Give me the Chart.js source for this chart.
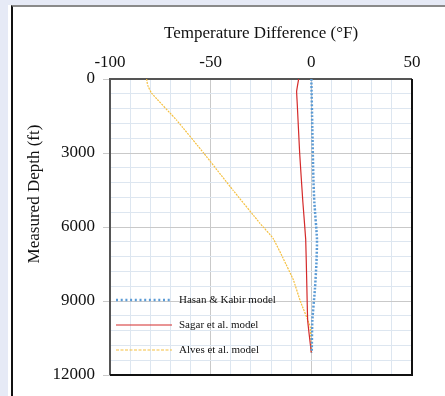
<!DOCTYPE html>
<html><head><meta charset="utf-8">
<title>Temperature Difference</title>
<script src="https://cdn.jsdelivr.net/npm/chart.js@4.4.0/dist/chart.umd.min.js"></script>
<style>
  html, body { margin: 0; padding: 0; }
  body { width: 445px; height: 396px; background: #e6eaf6; position: relative; overflow: hidden; }
  .panel { position: absolute; left: 8px; top: 5px; right: 0; bottom: 0; background: #fff; }
  .frame { position: absolute; left: 11px; top: 5px; right: -10px; bottom: -10px;
           border-left: 2px solid #111; border-top: 2px solid #8a8a8a; }
  .wrap { position: absolute; left: 0; top: 0; width: 445px; height: 396px; }
</style>
</head>
<body>
<div class="panel"></div>
<div class="frame"></div>
<div class="wrap"><canvas id="c"></canvas></div>
<script>
// x ticks: temperature difference (°F), y ticks: measured depth (ft)
const xMin = -100, xMax = 50, xStep = 10, xMajor = 50;
const yMin = 0, yMax = 12000, yStep = 600, yMajor = 3000;

// Hasan & Kabir model
const hkDepth = [0, 2000, 4000, 5000, 6500, 7500, 8500, 9800, 11100];
const hkDiff  = [0, 0.5, 1.0, 1.5, 2.8, 2.5, 1.8, 0.5, 0.2];

// Sagar et al. model
const sgDepth = [0, 500, 1000, 3000, 5000, 6500, 8150, 9800, 11100];
const sgDiff  = [-6.3, -7.3, -7.0, -5.8, -4.2, -2.8, -2.3, -1.8, 0];

// Alves et al. model
const alDepth = [0, 250, 570, 1660, 3000, 4500, 5850, 6460, 7270, 8150, 9000, 10040, 11100];
const alDiff  = [-81.8, -81.3, -79.4, -67, -53.5, -39, -25.5, -19, -14, -8.9, -5.5, -0.6, 0];

const seriesNames = ['Hasan & Kabir model', 'Sagar et al. model', 'Alves et al. model'];

const toPts = (xs, ys) => xs.map((x, i) => ({ x: x, y: ys[i] }));

const serif = "'Liberation Serif', 'Times New Roman', serif";

// 枠線と凡例
const framePlugin = {
  id: 'frame',
  beforeDatasetsDraw(chart) {
    const a = chart.chartArea, ctx = chart.ctx;
    ctx.save();
    ctx.lineWidth = 2;
    ctx.strokeStyle = '#555';
    ctx.beginPath();
    ctx.moveTo(a.left, a.bottom); ctx.lineTo(a.left, a.top); ctx.lineTo(a.right, a.top);
    ctx.stroke();
    ctx.strokeStyle = '#111';
    ctx.beginPath();
    ctx.moveTo(a.right, a.top); ctx.lineTo(a.right, a.bottom); ctx.lineTo(a.left, a.bottom);
    ctx.stroke();
    ctx.restore();
  },
  afterDraw(chart) {
    const ctx = chart.ctx;
    ctx.save();
    // y axis title
    ctx.translate(35, 194);
    ctx.rotate(-Math.PI / 2);
    ctx.font = '17px ' + serif;
    ctx.fillStyle = '#111';
    ctx.textAlign = 'center';
    ctx.textBaseline = 'middle';
    ctx.fillText('Measured Depth (ft)', 0, 0);
    ctx.restore();

    // legend
    const rows = [300, 325, 350];
    ctx.save();
    chart.data.datasets.forEach((ds, i) => {
      const y = rows[i];
      ctx.save();
      ctx.strokeStyle = ds.borderColor;
      ctx.lineWidth = ds.borderWidth;
      ctx.setLineDash(ds.legendDash || []);
      ctx.beginPath();
      ctx.moveTo(116, y); ctx.lineTo(172, y);
      ctx.stroke();
      ctx.restore();
      ctx.font = '11px ' + serif;
      ctx.fillStyle = '#111';
      ctx.textAlign = 'left';
      ctx.textBaseline = 'middle';
      ctx.fillText(ds.label, 179, y);
    });
    ctx.restore();
  }
};

new Chart(document.getElementById('c'), {
  type: 'scatter',
  data: {
    datasets: [
      { label: seriesNames[0], data: toPts(hkDiff, hkDepth), showLine: true,
        borderColor: '#5b9bd5', borderWidth: 2.5, borderDash: [2, 1.6], legendDash: [2, 2.7],
        pointRadius: 0, tension: 0.2 },
      { label: seriesNames[1], data: toPts(sgDiff, sgDepth), showLine: true,
        borderColor: '#d42a2a', borderWidth: 1.2, pointRadius: 0, tension: 0.1 },
      { label: seriesNames[2], data: toPts(alDiff, alDepth), showLine: true,
        borderColor: '#f5c040', borderWidth: 1.2, borderDash: [2, 1], legendDash: [3, 1.5],
        pointRadius: 0, tension: 0.1 }
    ]
  },
  options: {
    responsive: true,
    maintainAspectRatio: false,
    animation: false,
    layout: { padding: { left: 0, top: 0, right: 33, bottom: 21 } },
    plugins: { legend: { display: false }, tooltip: { enabled: false } },
    scales: {
      x: {
        type: 'linear', position: 'top', min: xMin, max: xMax,
        afterFit: (s) => { s.height = 79; },
        border: { display: false },
        grid: {
          drawTicks: false,
          color: (c) => (c.tick && c.tick.value % xMajor === 0) ? '#c9c9c9' : '#dde6f0',
          lineWidth: 1
        },
        ticks: {
          stepSize: xStep, autoSkip: false, maxRotation: 0, padding: 6,
          color: '#111', font: { family: serif, size: 17 },
          callback: (v) => v % xMajor === 0 ? v : ''
        },
        title: { display: true, text: 'Temperature Difference (°F)', color: '#111',
                 font: { family: serif, size: 17 }, padding: { top: 23, bottom: 0 } }
      },
      y: {
        type: 'linear', reverse: true, min: yMin, max: yMax,
        afterFit: (s) => { s.width = 110; },
        border: { display: false },
        grid: {
          tickLength: 7,
          tickColor: (c) => (c.tick && c.tick.value % yMajor === 0) ? '#c9c9c9' : 'rgba(0,0,0,0)',
          color: (c) => (c.tick && c.tick.value % yMajor === 0) ? '#c9c9c9' : '#dde6f0',
          lineWidth: 1
        },
        ticks: {
          stepSize: yStep, autoSkip: false, padding: 8,
          color: '#111', font: { family: serif, size: 17 },
          callback: (v) => v % yMajor === 0 ? v : ''
        }
      }
    }
  },
  plugins: [framePlugin]
});
</script>
</body></html>
